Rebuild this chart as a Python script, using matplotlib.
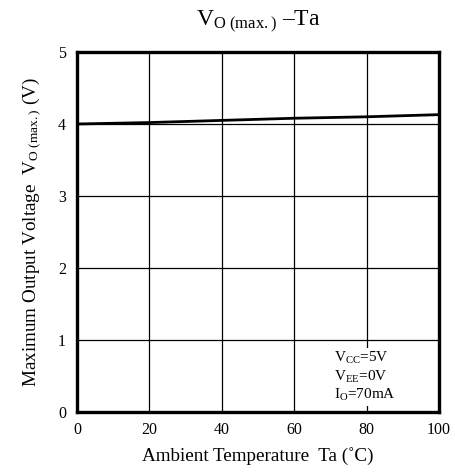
import numpy as np
import matplotlib
matplotlib.use("Agg")
import matplotlib.pyplot as plt

plt.rcParams['font.family'] = ['Liberation Serif', 'DejaVu Serif']
plt.rcParams['mathtext.fontset'] = 'custom'
plt.rcParams['mathtext.rm'] = 'Liberation Serif'
plt.rcParams['mathtext.it'] = 'Liberation Serif'

# data
ta = [0, 20, 40, 60, 80, 100]
vo_max = [4.00, 4.02, 4.05, 4.08, 4.10, 4.13]

x_ticks = [0, 20, 40, 60, 80, 100]
y_ticks = [0, 1, 2, 3, 4, 5]

fig = plt.figure(figsize=(4.56, 4.74), dpi=100)
ax = fig.add_axes([77/456, 1 - 412/474, (439 - 77)/456, (412 - 52)/474])

ax.plot(ta, vo_max, color='black', lw=2.0, zorder=3)

ax.set_xlim(0, 100)
ax.set_ylim(0, 5)
ax.set_xticks(x_ticks)
ax.set_yticks(y_ticks)
ax.grid(True, color='black', lw=0.9)
ax.tick_params(axis='x', length=0, labelsize=11.5, pad=7)
ax.tick_params(axis='y', length=0, labelsize=11.5, pad=8)
for s in ax.spines.values():
    s.set_linewidth(2.4)

ax.set_xlabel('Ambient Temperature  Ta (\u02daC)', fontsize=13.8, labelpad=7)
ax.set_ylabel(r'Maximum Output Voltage  $\mathrm{V_{O\ (max.)}}$ (V)', fontsize=13.8, labelpad=11)
fig.text(258/456, 1 - 22/474, r'$\mathrm{V_{O\ (max.)}}$' + ' \u2013Ta', fontsize=17, ha='center', va='center')

ax.text(71.0, 0.12, '$\\mathrm{V_{CC}}$=5V\n$\\mathrm{V_{EE}}$=0V\n$\\mathrm{I_{O}}$=70mA',
        fontsize=11, ha='left', va='bottom', linespacing=1.2,
        bbox=dict(facecolor='white', edgecolor='none', pad=2), zorder=4)

fig.savefig('out.png', dpi=100)
